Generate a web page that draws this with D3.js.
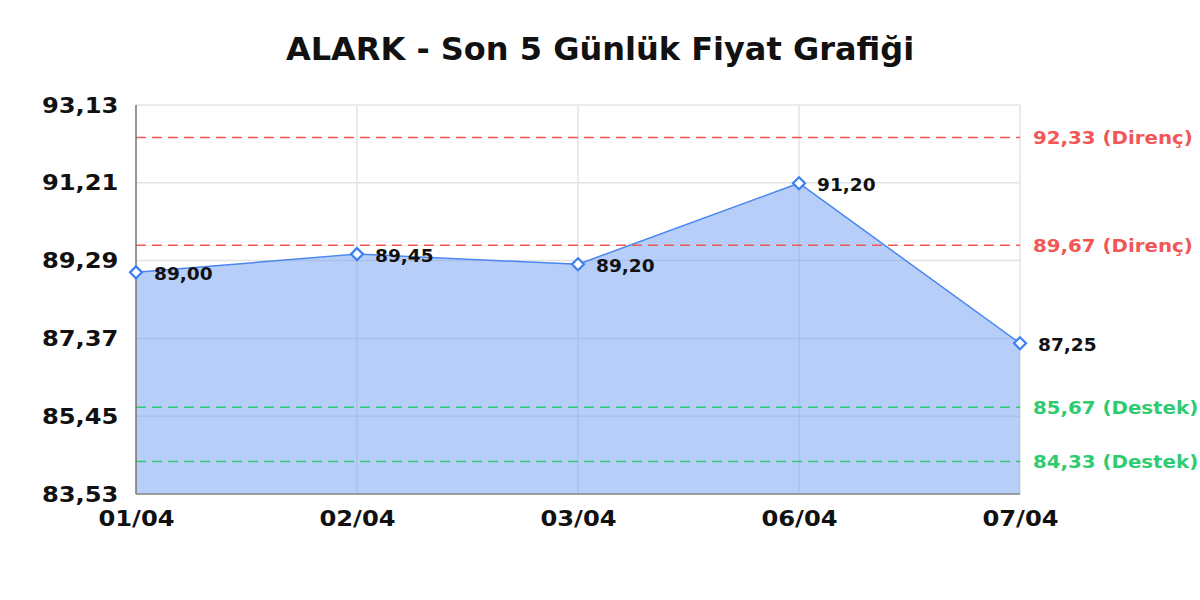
<!DOCTYPE html>
<html>
<head>
<meta charset="utf-8">
<script src="https://cdn.jsdelivr.net/npm/d3@7"></script>
<style>
  body { margin: 0; background: #fff; }
  text { font-family: "DejaVu Sans", sans-serif; }
</style>
</head>
<body>
<div id="chart"></div>
<script>
// veriler
const dates = ["01/04", "02/04", "03/04", "06/04", "07/04"];
const prices = [89.00, 89.45, 89.20, 91.20, 87.25];
const yTicks = [83.53, 85.45, 87.37, 89.29, 91.21, 93.13];
const resistance = [92.33, 89.67];
const support = [85.67, 84.33];

const W = 1200, H = 600;
const margin = { top: 105, left: 136, right: 180, bottom: 106 };
const width = W - margin.left - margin.right;
const height = H - margin.top - margin.bottom;
const stretch = 1.1; // yazılar biraz geniş

const fmt = v => d3.format(".2f")(v).replace(".", ",");

const svg = d3.select("#chart").append("svg")
  .attr("width", W).attr("height", H);

svg.append("text")
  .attr("x", W / 2).attr("y", 60)
  .attr("text-anchor", "middle")
  .attr("font-size", "32px").attr("font-weight", "bold")
  .attr("fill", "#111")
  .text("ALARK - Son 5 Günlük Fiyat Grafiği");

const g = svg.append("g")
  .attr("transform", `translate(${margin.left},${margin.top})`);

const x = d3.scalePoint().domain(dates).range([0, width]);
const y = d3.scaleLinear().domain([83.53, 93.13]).range([height, 0]);

// grid
g.append("g").selectAll("line").data(yTicks).join("line")
  .attr("x1", 0).attr("x2", width)
  .attr("y1", d => y(d)).attr("y2", d => y(d))
  .attr("stroke", "#e3e3e3").attr("stroke-width", 1.5);
g.append("g").selectAll("line").data(dates).join("line")
  .attr("x1", d => x(d)).attr("x2", d => x(d))
  .attr("y1", 0).attr("y2", height)
  .attr("stroke", "#e3e3e3").attr("stroke-width", 1.5);

// alan
const area = d3.area().x((d, i) => x(dates[i])).y0(height).y1(d => y(d));
g.append("path").datum(prices)
  .attr("d", area)
  .attr("fill", "#6f9ff2").attr("fill-opacity", 0.5);

const line = d3.line().x((d, i) => x(dates[i])).y(d => y(d));
g.append("path").datum(prices)
  .attr("d", line)
  .attr("fill", "none").attr("stroke", "#4a86f0").attr("stroke-width", 1.5);

// destek / direnç çizgileri
const refs = resistance.map(v => ({ v, label: fmt(v) + " (Direnç)", c: "#f25656" }))
  .concat(support.map(v => ({ v, label: fmt(v) + " (Destek)", c: "#2ecc71" })));

g.append("g").selectAll("line").data(refs).join("line")
  .attr("x1", 0).attr("x2", width)
  .attr("y1", d => y(d.v)).attr("y2", d => y(d.v))
  .attr("stroke", d => d.c).attr("stroke-width", 1.5)
  .attr("stroke-dasharray", "10,6");

g.append("g").selectAll("text").data(refs).join("text")
  .attr("transform", d => `translate(${width + 13},${y(d.v)}) scale(${stretch},1)`)
  .attr("dy", "0.36em")
  .attr("font-size", "18px").attr("font-weight", "bold")
  .attr("fill", d => d.c)
  .text(d => d.label);

// eksenler
g.append("line").attr("x1", 0).attr("x2", 0).attr("y1", 0).attr("y2", height)
  .attr("stroke", "#777").attr("stroke-width", 1.5);
g.append("line").attr("x1", 0).attr("x2", width).attr("y1", height).attr("y2", height)
  .attr("stroke", "#888").attr("stroke-width", 1.5);

const yAxis = g.append("g")
  .call(d3.axisLeft(y).tickValues(yTicks).tickFormat(fmt).tickSize(0).tickPadding(16));
yAxis.select(".domain").remove();
yAxis.selectAll("text")
  .attr("transform", `scale(${stretch},1)`)
  .attr("font-size", "22px").attr("font-weight", "bold").attr("fill", "#111")
  .attr("font-family", "DejaVu Sans, sans-serif");

const xAxis = g.append("g").attr("transform", `translate(0,${height})`)
  .call(d3.axisBottom(x).tickSize(0).tickPadding(16));
xAxis.select(".domain").remove();
xAxis.selectAll("text")
  .attr("transform", `scale(${stretch},1)`)
  .attr("font-size", "22px").attr("font-weight", "bold").attr("fill", "#111")
  .attr("font-family", "DejaVu Sans, sans-serif");

// noktalar
g.append("g").selectAll("path").data(prices).join("path")
  .attr("transform", (d, i) => `translate(${x(dates[i])},${y(d)})`)
  .attr("d", "M0,-6L6,0L0,6L-6,0Z")
  .attr("fill", "#fff").attr("stroke", "#3b7ff0").attr("stroke-width", 2.2);

g.append("g").selectAll("text").data(prices).join("text")
  .attr("transform", (d, i) => `translate(${x(dates[i]) + 18},${y(d)}) scale(1.03,1)`)
  .attr("dy", "0.42em")
  .attr("font-size", "18px").attr("font-weight", "bold")
  .attr("fill", "#111")
  .text(fmt);
</script>
</body>
</html>
